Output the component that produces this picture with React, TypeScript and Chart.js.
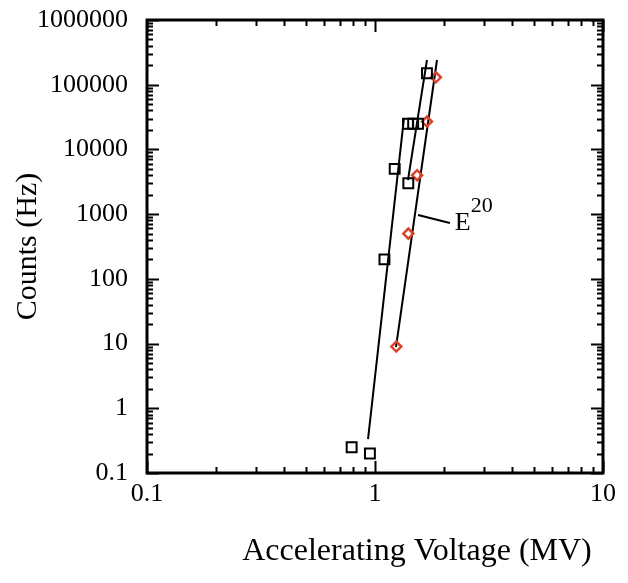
import { useEffect, useRef } from "react";
import { Chart, registerables } from "chart.js";

Chart.register(...registerables);

// Black squares
const squareX = [0.79, 0.95, 1.1, 1.22, 1.4, 1.395, 1.47, 1.545, 1.69];
const squareY = [0.25, 0.2, 200, 5000, 3000, 25000, 25000, 25000, 150000];
// Red diamonds
const diamondX = [1.24, 1.4, 1.53, 1.69, 1.85];
const diamondY = [9, 500, 4000, 27000, 130000];
// Fit lines (end points)
const fitAX = [0.932, 1.34];
const fitAY = [0.334, 30500];
const fitBX = [1.395, 1.69];
const fitBY = [3365, 241000];
const fitCX = [1.236, 1.87];
const fitCY = [8.83, 241000];
// Annotation "E^20" leader line
const leaderX = [1.544, 2.13];
const leaderY = [968, 728];
const labelX = 2.24;
const labelY = 560;

const xMin = 0.1;
const xMax = 10;
const yMin = 0.1;
const yMax = 1000000;

const FONT = "'Liberation Serif', 'Times New Roman', serif";

function pts(xs: number[], ys: number[]) {
  return xs.map((x, i) => ({ x, y: ys[i] }));
}

function logTicks(min: number, max: number) {
  const out: { value: number }[] = [];
  const e0 = Math.floor(Math.log10(min));
  const e1 = Math.ceil(Math.log10(max));
  for (let e = e0; e <= e1; e++) {
    for (let k = 1; k <= 9; k++) {
      const v = Number((k * Math.pow(10, e)).toPrecision(10));
      if (v >= min * 0.9999 && v <= max * 1.0001) out.push({ value: v });
    }
  }
  return out;
}

function isPow10(v: number) {
  const l = Math.log10(v);
  return Math.abs(l - Math.round(l)) < 1e-9;
}

function fmt(v: number) {
  if (!isPow10(v)) return "";
  if (v >= 1) return String(Math.round(v));
  return String(Number(v.toPrecision(6)));
}

const framePlugin = {
  id: "framePlugin",
  afterDraw(chart: any) {
    const { ctx, chartArea: a, scales } = chart;
    const xs = scales.x;
    const ys = scales.y;
    ctx.save();
    ctx.strokeStyle = "#000";
    // ticks
    ctx.lineWidth = 2;
    const major = 12;
    const minor = 6;
    xs.ticks.forEach((t: any) => {
      const px = Math.round(xs.getPixelForValue(t.value)) + 0.5;
      const len = isPow10(t.value) ? major : minor;
      ctx.beginPath();
      ctx.moveTo(px, a.bottom);
      ctx.lineTo(px, a.bottom - len);
      ctx.moveTo(px, a.top);
      ctx.lineTo(px, a.top + len);
      ctx.stroke();
    });
    ys.ticks.forEach((t: any) => {
      const py = Math.round(ys.getPixelForValue(t.value)) + 0.5;
      const len = isPow10(t.value) ? major : minor;
      ctx.beginPath();
      ctx.moveTo(a.left, py);
      ctx.lineTo(a.left + len, py);
      ctx.moveTo(a.right, py);
      ctx.lineTo(a.right - len, py);
      ctx.stroke();
    });
    // frame
    ctx.lineWidth = 3;
    ctx.strokeRect(a.left, a.top, a.right - a.left, a.bottom - a.top);

    // annotation
    ctx.lineWidth = 2;
    ctx.beginPath();
    ctx.moveTo(xs.getPixelForValue(leaderX[0]), ys.getPixelForValue(leaderY[0]));
    ctx.lineTo(xs.getPixelForValue(leaderX[1]), ys.getPixelForValue(leaderY[1]));
    ctx.stroke();
    ctx.fillStyle = "#000";
    ctx.textBaseline = "alphabetic";
    ctx.textAlign = "left";
    const ex = xs.getPixelForValue(labelX);
    const ey = ys.getPixelForValue(labelY);
    ctx.font = `26px ${FONT}`;
    ctx.fillText("E", ex, ey);
    const w = ctx.measureText("E").width;
    ctx.font = `22px ${FONT}`;
    ctx.fillText("20", ex + w, ey - 18);

    // x title
    ctx.font = `32px ${FONT}`;
    ctx.textAlign = "center";
    ctx.textBaseline = "middle";
    ctx.fillText("Accelerating Voltage (MV)", (a.left + a.right) / 2 + 42, a.bottom + 79);
    ctx.restore();
  },
};

export default function App() {
  const ref = useRef<HTMLCanvasElement | null>(null);
  useEffect(() => {
    if (!ref.current) return;
    const lineDs = (xs: number[], ys: number[]) => ({
      type: "line" as const,
      data: pts(xs, ys),
      borderColor: "#000",
      borderWidth: 2,
      pointRadius: 0,
      showLine: true,
      fill: false,
    });
    const chart = new Chart(ref.current, {
      type: "scatter",
      data: {
        datasets: [
          {
            data: pts(squareX, squareY),
            pointStyle: "rect",
            pointRadius: 7,
            borderColor: "#000",
            backgroundColor: "rgba(0,0,0,0)",
            borderWidth: 2,
          },
          {
            data: pts(diamondX, diamondY),
            pointStyle: "rectRot",
            pointRadius: 5,
            borderColor: "#d9432b",
            backgroundColor: "rgba(0,0,0,0)",
            borderWidth: 2.5,
          },
          lineDs(fitAX, fitAY) as any,
          lineDs(fitBX, fitBY) as any,
          lineDs(fitCX, fitCY) as any,
        ],
      },
      options: {
        responsive: false,
        animation: false,
        layout: { padding: { left: 0, top: 20, right: 25, bottom: 0 } },
        plugins: { legend: { display: false }, tooltip: { enabled: false } },
        scales: {
          x: {
            type: "logarithmic",
            min: xMin,
            max: xMax,
            grid: { display: false, drawTicks: false },
            border: { display: false },
            afterBuildTicks: (s: any) => {
              s.ticks = logTicks(xMin, xMax);
            },
            afterFit: (s: any) => {
              s.height = 110;
              s.paddingLeft = 0;
              s.paddingRight = 0;
            },
            ticks: {
              autoSkip: false,
              maxRotation: 0,
              padding: 6,
              color: "#000",
              font: { family: FONT, size: 26 },
              callback: (v: any) => fmt(Number(v)),
            },
          },
          y: {
            type: "logarithmic",
            min: yMin,
            max: yMax,
            grid: { display: false, drawTicks: false },
            border: { display: false },
            afterBuildTicks: (s: any) => {
              s.ticks = logTicks(yMin, yMax);
            },
            afterFit: (s: any) => {
              s.width = 147;
              s.paddingTop = 0;
              s.paddingBottom = 0;
            },
            title: {
              display: true,
              text: "Counts (Hz)",
              color: "#000",
              font: { family: FONT, size: 30 },
              padding: { top: 10, bottom: 0 },
            },
            ticks: {
              autoSkip: false,
              padding: 19,
              color: "#000",
              font: { family: FONT, size: 26 },
              callback: (v: any) => fmt(Number(v)),
            },
          },
        },
      },
      plugins: [framePlugin],
    });
    return () => chart.destroy();
  }, []);
  return (
    <canvas
      ref={ref}
      width={628}
      height={583}
      style={{ position: "absolute", left: 0, top: 0, width: 628, height: 583 }}
    />
  );
}
